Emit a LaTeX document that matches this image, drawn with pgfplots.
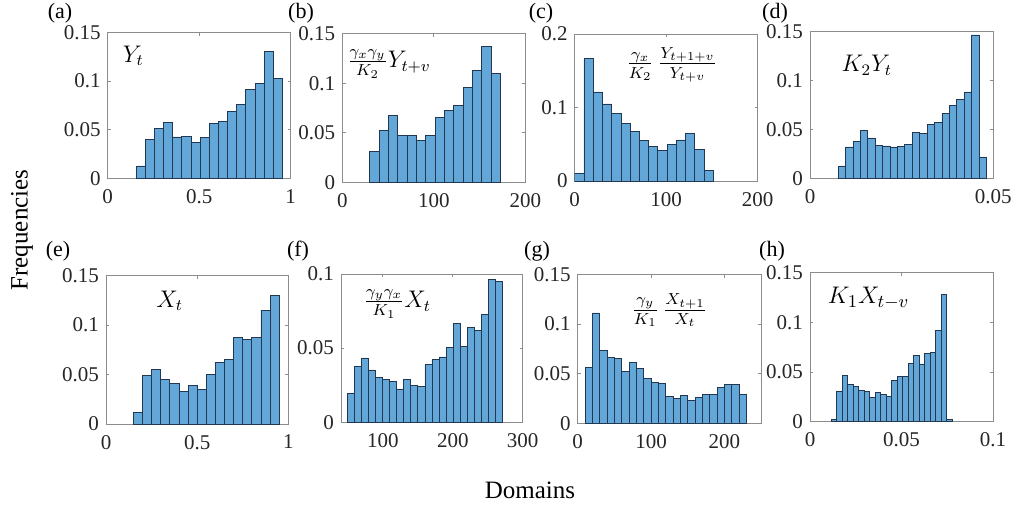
\documentclass[border=0pt]{standalone}
\usepackage{fontspec}
\setmainfont{Liberation Serif}
\usepackage{pgfplots}
\pgfplotsset{compat=1.18}
\definecolor{barfill}{RGB}{98,167,215}
\definecolor{baredge}{RGB}{34,56,82}
\definecolor{boxgray}{RGB}{140,140,140}

\pgfplotsset{
  hist/.style={
    scale only axis,
    anchor=south west,
    axis line style={boxgray, line width=0.5pt},
    tick style={boxgray, line width=0.5pt},
    tick align=inside,
    major tick length=1.6pt,
    ymin=0,
    scaled ticks=false,
    x tick label as interval=false,
    tick label style={font=\rmfamily\fontsize{10.5}{12}\selectfont, text=black!85},
    xticklabel style={yshift=-2pt},
    /pgf/number format/assume math mode=true,
  },
  bars/.style={ybar interval, fill=barfill, draw=baredge, line width=0.4pt},
}
\newcommand{\annot}{\fontsize{11.5}{13}\selectfont}

\begin{document}
\begin{tikzpicture}
\path[use as bounding box] (0pt,0pt) rectangle (508pt,252.5pt);

% (a)
\begin{axis}[hist, at={(53.85pt,163.35pt)}, width=91.5pt, height=72.9pt,
  xmin=0, xmax=1, ymax=0.15,
  xtick={0,0.5,1}, xticklabels={0,0.5,1},
  ytick={0,0.05,0.1,0.15}, yticklabels={0,0.05,0.1,0.15}]
\addplot[bars] coordinates {
 (0.155,0.0127)(0.205,0.0404)(0.255,0.0517)(0.305,0.0575)(0.355,0.0425)
 (0.405,0.0432)(0.455,0.0366)(0.505,0.0418)(0.555,0.0562)(0.605,0.0589)
 (0.655,0.0692)(0.705,0.0764)(0.755,0.0914)(0.805,0.0979)(0.855,0.1305)
 (0.905,0.1024)(0.955,0)};
\node[font=\annot] at (rel axis cs:0.14,0.84) {$Y_t$};
\end{axis}

% (b)
\begin{axis}[hist, at={(171.15pt,161.35pt)}, width=91.5pt, height=74.15pt,
  xmin=0, xmax=200, ymax=0.15,
  xtick={0,100,200}, xticklabels={0,100,200},
  ytick={0,0.05,0.1,0.15}, yticklabels={0,0.05,0.1,0.15}]
\addplot[bars] coordinates {
 (30,0.0313)(40.2,0.0526)(50.4,0.0674)(60.6,0.0475)(70.8,0.0475)
 (81,0.0425)(91.2,0.0472)(101.4,0.0657)(111.6,0.0731)(121.8,0.0779)
 (132,0.0961)(142.2,0.1132)(152.4,0.1375)(162.6,0.1099)(172.8,0)};
\node[font=\annot] at (rel axis cs:0.255,0.80) {$\frac{\gamma_x\gamma_y}{K_2}Y_{t+v}$};
\end{axis}

% (c)
\begin{axis}[hist, at={(287.35pt,162pt)}, width=91.5pt, height=73.5pt,
  xmin=0, xmax=200, ymax=0.2,
  xtick={0,100,200}, xticklabels={0,100,200},
  ytick={0,0.1,0.2}, yticklabels={0,0.1,0.2}]
\addplot[bars] coordinates {
 (0,0.0100)(10.1,0.1669)(20.2,0.1211)(30.3,0.1048)(40.4,0.0916)
 (50.5,0.0789)(60.6,0.0680)(70.7,0.0553)(80.8,0.0472)(90.9,0.0417)
 (101,0.0499)(111.1,0.0558)(121.2,0.0644)(131.3,0.0431)(141.4,0.0145)
 (151.5,0)};
\node[font=\annot] at (rel axis cs:0.53,0.79) {$\frac{\gamma_x}{K_2}\,\frac{Y_{t+1+v}}{Y_{t+v}}$};
\end{axis}

% (d)
\begin{axis}[hist, at={(405pt,163.35pt)}, width=91.65pt, height=73.5pt,
  xmin=0, xmax=0.05, ymax=0.15,
  xtick={0,0.05}, xticklabels={0,0.05},
  ytick={0,0.05,0.1,0.15}, yticklabels={0,0.05,0.1,0.15}]
\addplot[bars] coordinates {
 (0.0077,0.0126)(0.00972,0.0320)(0.01174,0.0378)(0.01376,0.0490)(0.01578,0.0412)
 (0.0178,0.0337)(0.01982,0.0330)(0.02184,0.0316)(0.02386,0.0327)(0.02588,0.0347)
 (0.0279,0.0469)(0.02992,0.0459)(0.03194,0.0551)(0.03396,0.0571)(0.03598,0.0663)
 (0.038,0.0745)(0.04002,0.0806)(0.04204,0.0881)(0.04406,0.1463)(0.04608,0.0218)
 (0.0481,0)};
\node[font=\annot] at (rel axis cs:0.31,0.77) {$K_2Y_t$};
\end{axis}

% (e)
\begin{axis}[hist, at={(53pt,40.5pt)}, width=91.15pt, height=74.15pt,
  xmin=0, xmax=1, ymax=0.15,
  xtick={0,0.5,1}, xticklabels={0,0.5,1},
  ytick={0,0.05,0.1,0.15}, yticklabels={0,0.05,0.1,0.15}]
\addplot[bars] coordinates {
 (0.15,0.0118)(0.2,0.0492)(0.25,0.0553)(0.3,0.0455)(0.35,0.0411)
 (0.4,0.0330)(0.45,0.0391)(0.5,0.0347)(0.55,0.0502)(0.6,0.0624)
 (0.65,0.0657)(0.7,0.0873)(0.75,0.0859)(0.8,0.0873)(0.85,0.1149)
 (0.9,0.1301)(0.95,0)};
\node[font=\annot] at (rel axis cs:0.35,0.83) {$X_t$};
\end{axis}

% (f)
\begin{axis}[hist, at={(170.5pt,41.35pt)}, width=90.85pt, height=74.15pt,
  xmin=40, xmax=300, ymax=0.1,
  xtick={100,200,300}, xticklabels={100,200,300},
  ytick={0,0.05,0.1}, yticklabels={0,0.05,0.1}]
\addplot[bars] coordinates {
 (49,0.0197)(59.1,0.0376)(69.2,0.0434)(79.3,0.0353)(89.4,0.0305)
 (99.5,0.0292)(109.6,0.0276)(119.7,0.0222)(129.8,0.0292)(139.9,0.0251)
 (150,0.0244)(160.1,0.0389)(170.2,0.0423)(180.3,0.0441)(190.4,0.0502)
 (200.5,0.0665)(210.6,0.0509)(220.7,0.0638)(230.8,0.0620)(240.9,0.0726)
 (251,0.0962)(261.1,0.0952)(271.2,0)};
\node[font=\annot] at (rel axis cs:0.31,0.80) {$\frac{\gamma_y\gamma_x}{K_1}X_t$};
\end{axis}

% (g)
\begin{axis}[hist, at={(288.85pt,40.85pt)}, width=91.65pt, height=74.4pt,
  xmin=0, xmax=250, ymax=0.15,
  xtick={0,100,200}, xticklabels={0,100,200},
  ytick={0,0.05,0.1,0.15}, yticklabels={0,0.05,0.1,0.15}]
\addplot[bars] coordinates {
 (10,0.0566)(20,0.1112)(30,0.0738)(40,0.0667)(50,0.0657)
 (60,0.0519)(70,0.0617)(80,0.0553)(90,0.0455)(100,0.0415)
 (110,0.0401)(120,0.0273)(130,0.0253)(140,0.0280)(150,0.0229)
 (160,0.0263)(170,0.0290)(180,0.0290)(190,0.0364)(200,0.0388)
 (210,0.0388)(220,0.0290)(230,0)};
\node[font=\annot] at (rel axis cs:0.50,0.76) {$\frac{\gamma_y}{K_1}\,\frac{X_{t+1}}{X_t}$};
\end{axis}

% (h)
\begin{axis}[hist, at={(405pt,41.65pt)}, width=91.5pt, height=74.5pt,
  xmin=0, xmax=0.1, ymax=0.15,
  xtick={0,0.05,0.1}, xticklabels={0,0.05,0.1},
  ytick={0,0.05,0.1,0.15}, yticklabels={0,0.05,0.1,0.15}]
\addplot[bars] coordinates {
 (0.0116,0.0027)(0.0146,0.0301)(0.0176,0.0463)(0.0206,0.0378)(0.0236,0.0355)
 (0.0266,0.0311)(0.0296,0.0301)(0.0326,0.0243)(0.0356,0.0291)(0.0386,0.0274)
 (0.0416,0.0253)(0.0446,0.0412)(0.0476,0.0459)(0.0506,0.0459)(0.0536,0.0584)
 (0.0566,0.0666)(0.0596,0.0581)(0.0626,0.0686)(0.0656,0.0699)(0.0686,0.0919)
 (0.0716,0.1277)(0.0746,0.0027)(0.0776,0)};
\node[font=\fontsize{13}{15}\selectfont] at (rel axis cs:0.32,0.83) {$K_1X_{t-v}$};
\end{axis}

% panel letters and shared labels
\begin{scope}[every node/.style={font=\rmfamily\fontsize{11}{13}\selectfont, text=black, inner sep=1pt}]
\node at (30pt,246pt) {(a)};
\node at (150.5pt,246pt) {(b)};
\node at (270.5pt,246pt) {(c)};
\node at (387.5pt,246pt) {(d)};
\node at (29pt,127pt) {(e)};
\node at (149pt,127pt) {(f)};
\node at (268.5pt,127pt) {(g)};
\node at (386pt,127pt) {(h)};
\end{scope}
\node[rotate=90, font=\rmfamily\fontsize{12.5}{14}\selectfont] at (11pt,137.5pt) {Frequencies};
\node[font=\rmfamily\fontsize{12.5}{14}\selectfont] at (265pt,7.5pt) {Domains};
\end{tikzpicture}
\end{document}
